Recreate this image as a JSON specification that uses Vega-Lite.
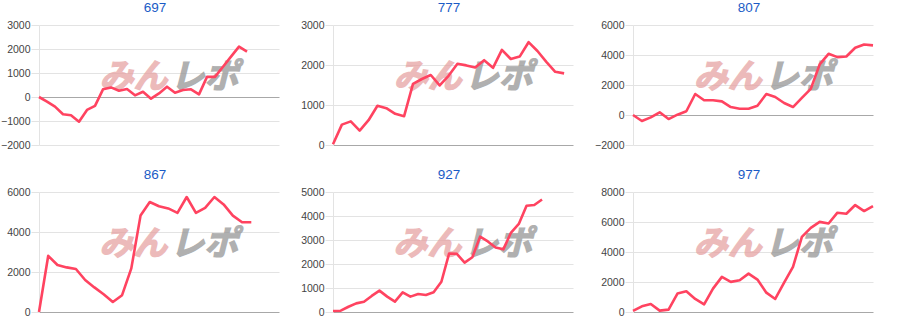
{
  "$schema": "https://vega.github.io/schema/vega-lite/v6.json",
  "padding": {"left": 0, "top": 0, "right": 0, "bottom": 0},
  "background": "white",
  "columns": 3,
  "spacing": {"row": 16, "column": 21},
  "config": {
    "font": "Liberation Sans",
    "view": {"stroke": null},
    "title": {"font": "Liberation Sans", "fontSize": 13.5, "fontWeight": "normal", "color": "#1a5bc6", "offset": 6, "dx": -4},
    "axisY": {
      "labelFont": "Liberation Sans", "labelFontSize": 10.5, "labelColor": "#444444",
      "labelPadding": 1, "tickSize": 8, "format": "d", "tickColor": "#e3e3e3",
      "domainColor": "#e3e3e3", "title": null, "grid": true
    },
    "line": {"color": "#ff4360", "strokeWidth": 2.6, "strokeJoin": "round"}
  },
  "concat": [
    {
      "title": "697", "width": 240, "height": 120,
      "encoding": {
        "x": {"field": "day", "type": "quantitative", "scale": {"domain": [1, 31], "nice": false}, "axis": null},
        "y": {"field": "value", "type": "quantitative", "scale": {"domain": [-2000, 3000], "nice": false},
              "axis": {"values": [-2000, -1000, 0, 1000, 2000, 3000], "gridColor": {"condition": {"test": "datum.value === 0", "value": "#a8a8a8"}, "value": "#e3e3e3"}}}
      },
      "layer": [
        {"data": {"values": [{"t": "みん", "day": 17.2, "value": 835}]},
         "mark": {"type": "text", "align": "right", "baseline": "middle", "dx": -1, "dy": 1, "font": "Noto Sans CJK JP", "fontSize": 34, "fontWeight": "bold", "fontStyle": "italic", "color": "#e6a0a0", "stroke": "#e6a0a0", "strokeWidth": 1.3, "opacity": 0.72},
         "encoding": {"text": {"field": "t"}}},
        {"data": {"values": [{"t": "レポ", "day": 17.2, "value": 835}]},
         "mark": {"type": "text", "align": "left", "baseline": "middle", "dx": 2, "dy": 1, "font": "Noto Sans CJK JP", "fontSize": 34, "fontWeight": "bold", "fontStyle": "italic", "color": "#9a9a9a", "stroke": "#9a9a9a", "strokeWidth": 1.3, "opacity": 0.78},
         "encoding": {"text": {"field": "t"}}},
        {"data": {"values": [
          {"day": 1, "value": 0}, {"day": 2, "value": -190}, {"day": 3, "value": -400}, {"day": 4, "value": -720},
          {"day": 5, "value": -760}, {"day": 6, "value": -1030}, {"day": 7, "value": -540}, {"day": 8, "value": -370},
          {"day": 9, "value": 320}, {"day": 10, "value": 400}, {"day": 11, "value": 260}, {"day": 12, "value": 330},
          {"day": 13, "value": 70}, {"day": 14, "value": 220}, {"day": 15, "value": -70}, {"day": 16, "value": 150},
          {"day": 17, "value": 430}, {"day": 18, "value": 180}, {"day": 19, "value": 290}, {"day": 20, "value": 320},
          {"day": 21, "value": 110}, {"day": 22, "value": 840}, {"day": 23, "value": 840}, {"day": 24, "value": 1260},
          {"day": 25, "value": 1680}, {"day": 26, "value": 2100}, {"day": 27, "value": 1890}
        ]}, "mark": "line"}
      ]
    },
    {
      "title": "777", "width": 240, "height": 120,
      "encoding": {
        "x": {"field": "day", "type": "quantitative", "scale": {"domain": [1, 28], "nice": false}, "axis": null},
        "y": {"field": "value", "type": "quantitative", "scale": {"domain": [0, 3000], "nice": false},
              "axis": {"values": [0, 1000, 2000, 3000], "gridColor": {"condition": {"test": "datum.value === 0", "value": "#a8a8a8"}, "value": "#e3e3e3"}}}
      },
      "layer": [
        {"data": {"values": [{"t": "みん", "day": 15.6, "value": 1700}]},
         "mark": {"type": "text", "align": "right", "baseline": "middle", "dx": -1, "dy": 1, "font": "Noto Sans CJK JP", "fontSize": 34, "fontWeight": "bold", "fontStyle": "italic", "color": "#e6a0a0", "stroke": "#e6a0a0", "strokeWidth": 1.3, "opacity": 0.72},
         "encoding": {"text": {"field": "t"}}},
        {"data": {"values": [{"t": "レポ", "day": 15.6, "value": 1700}]},
         "mark": {"type": "text", "align": "left", "baseline": "middle", "dx": 2, "dy": 1, "font": "Noto Sans CJK JP", "fontSize": 34, "fontWeight": "bold", "fontStyle": "italic", "color": "#9a9a9a", "stroke": "#9a9a9a", "strokeWidth": 1.3, "opacity": 0.78},
         "encoding": {"text": {"field": "t"}}},
        {"data": {"values": [
          {"day": 1, "value": 20}, {"day": 2, "value": 510}, {"day": 3, "value": 590}, {"day": 4, "value": 360},
          {"day": 5, "value": 620}, {"day": 6, "value": 980}, {"day": 7, "value": 920}, {"day": 8, "value": 780},
          {"day": 9, "value": 720}, {"day": 10, "value": 1530}, {"day": 11, "value": 1650}, {"day": 12, "value": 1750},
          {"day": 13, "value": 1490}, {"day": 14, "value": 1730}, {"day": 15, "value": 2030}, {"day": 16, "value": 1990},
          {"day": 17, "value": 1940}, {"day": 18, "value": 2120}, {"day": 19, "value": 1930}, {"day": 20, "value": 2380},
          {"day": 21, "value": 2150}, {"day": 22, "value": 2210}, {"day": 23, "value": 2570}, {"day": 24, "value": 2350},
          {"day": 25, "value": 2080}, {"day": 26, "value": 1830}, {"day": 27, "value": 1790}
        ]}, "mark": "line"}
      ]
    },
    {
      "title": "807", "width": 240, "height": 120,
      "encoding": {
        "x": {"field": "day", "type": "quantitative", "scale": {"domain": [1, 28], "nice": false}, "axis": null},
        "y": {"field": "value", "type": "quantitative", "scale": {"domain": [-2000, 6000], "nice": false},
              "axis": {"values": [-2000, 0, 2000, 4000, 6000], "gridColor": {"condition": {"test": "datum.value === 0", "value": "#a8a8a8"}, "value": "#e3e3e3"}}}
      },
      "layer": [
        {"data": {"values": [{"t": "みん", "day": 15.6, "value": 2536}]},
         "mark": {"type": "text", "align": "right", "baseline": "middle", "dx": -1, "dy": 1, "font": "Noto Sans CJK JP", "fontSize": 34, "fontWeight": "bold", "fontStyle": "italic", "color": "#e6a0a0", "stroke": "#e6a0a0", "strokeWidth": 1.3, "opacity": 0.72},
         "encoding": {"text": {"field": "t"}}},
        {"data": {"values": [{"t": "レポ", "day": 15.6, "value": 2536}]},
         "mark": {"type": "text", "align": "left", "baseline": "middle", "dx": 2, "dy": 1, "font": "Noto Sans CJK JP", "fontSize": 34, "fontWeight": "bold", "fontStyle": "italic", "color": "#9a9a9a", "stroke": "#9a9a9a", "strokeWidth": 1.3, "opacity": 0.78},
         "encoding": {"text": {"field": "t"}}},
        {"data": {"values": [
          {"day": 1, "value": 0}, {"day": 2, "value": -400}, {"day": 3, "value": -160}, {"day": 4, "value": 180},
          {"day": 5, "value": -270}, {"day": 6, "value": 20}, {"day": 7, "value": 250}, {"day": 8, "value": 1400},
          {"day": 9, "value": 980}, {"day": 10, "value": 980}, {"day": 11, "value": 910}, {"day": 12, "value": 530},
          {"day": 13, "value": 420}, {"day": 14, "value": 420}, {"day": 15, "value": 620}, {"day": 16, "value": 1400},
          {"day": 17, "value": 1200}, {"day": 18, "value": 800}, {"day": 19, "value": 530}, {"day": 20, "value": 1140},
          {"day": 21, "value": 1740}, {"day": 22, "value": 3370}, {"day": 23, "value": 4080}, {"day": 24, "value": 3860},
          {"day": 25, "value": 3900}, {"day": 26, "value": 4480}, {"day": 27, "value": 4700}, {"day": 28, "value": 4640}
        ]}, "mark": "line"}
      ]
    },
    {
      "title": "867", "width": 240, "height": 120,
      "encoding": {
        "x": {"field": "day", "type": "quantitative", "scale": {"domain": [1, 27], "nice": false}, "axis": null},
        "y": {"field": "value", "type": "quantitative", "scale": {"domain": [0, 6000], "nice": false},
              "axis": {"values": [0, 2000, 4000, 6000], "gridColor": {"condition": {"test": "datum.value === 0", "value": "#a8a8a8"}, "value": "#e3e3e3"}}}
      },
      "layer": [
        {"data": {"values": [{"t": "みん", "day": 15.0, "value": 3400}]},
         "mark": {"type": "text", "align": "right", "baseline": "middle", "dx": -1, "dy": 1, "font": "Noto Sans CJK JP", "fontSize": 34, "fontWeight": "bold", "fontStyle": "italic", "color": "#e6a0a0", "stroke": "#e6a0a0", "strokeWidth": 1.3, "opacity": 0.72},
         "encoding": {"text": {"field": "t"}}},
        {"data": {"values": [{"t": "レポ", "day": 15.0, "value": 3400}]},
         "mark": {"type": "text", "align": "left", "baseline": "middle", "dx": 2, "dy": 1, "font": "Noto Sans CJK JP", "fontSize": 34, "fontWeight": "bold", "fontStyle": "italic", "color": "#9a9a9a", "stroke": "#9a9a9a", "strokeWidth": 1.3, "opacity": 0.78},
         "encoding": {"text": {"field": "t"}}},
        {"data": {"values": [
          {"day": 1, "value": 0}, {"day": 2, "value": 2810}, {"day": 3, "value": 2350}, {"day": 4, "value": 2230},
          {"day": 5, "value": 2150}, {"day": 6, "value": 1600}, {"day": 7, "value": 1230}, {"day": 8, "value": 890},
          {"day": 9, "value": 500}, {"day": 10, "value": 840}, {"day": 11, "value": 2180}, {"day": 12, "value": 4820},
          {"day": 13, "value": 5500}, {"day": 14, "value": 5290}, {"day": 15, "value": 5180}, {"day": 16, "value": 4960},
          {"day": 17, "value": 5750}, {"day": 18, "value": 4960}, {"day": 19, "value": 5210}, {"day": 20, "value": 5750},
          {"day": 21, "value": 5380}, {"day": 22, "value": 4820}, {"day": 23, "value": 4490}, {"day": 24, "value": 4490}
        ]}, "mark": "line"}
      ]
    },
    {
      "title": "927", "width": 240, "height": 120,
      "encoding": {
        "x": {"field": "day", "type": "quantitative", "scale": {"domain": [1, 32], "nice": false}, "axis": null},
        "y": {"field": "value", "type": "quantitative", "scale": {"domain": [0, 5000], "nice": false},
              "axis": {"values": [0, 1000, 2000, 3000, 4000, 5000], "gridColor": {"condition": {"test": "datum.value === 0", "value": "#a8a8a8"}, "value": "#e3e3e3"}}}
      },
      "layer": [
        {"data": {"values": [{"t": "みん", "day": 17.7, "value": 2835}]},
         "mark": {"type": "text", "align": "right", "baseline": "middle", "dx": -1, "dy": 1, "font": "Noto Sans CJK JP", "fontSize": 34, "fontWeight": "bold", "fontStyle": "italic", "color": "#e6a0a0", "stroke": "#e6a0a0", "strokeWidth": 1.3, "opacity": 0.72},
         "encoding": {"text": {"field": "t"}}},
        {"data": {"values": [{"t": "レポ", "day": 17.7, "value": 2835}]},
         "mark": {"type": "text", "align": "left", "baseline": "middle", "dx": 2, "dy": 1, "font": "Noto Sans CJK JP", "fontSize": 34, "fontWeight": "bold", "fontStyle": "italic", "color": "#9a9a9a", "stroke": "#9a9a9a", "strokeWidth": 1.3, "opacity": 0.78},
         "encoding": {"text": {"field": "t"}}},
        {"data": {"values": [
          {"day": 1, "value": 40}, {"day": 2, "value": 55}, {"day": 3, "value": 220}, {"day": 4, "value": 360},
          {"day": 5, "value": 430}, {"day": 6, "value": 670}, {"day": 7, "value": 890}, {"day": 8, "value": 640},
          {"day": 9, "value": 430}, {"day": 10, "value": 820}, {"day": 11, "value": 640}, {"day": 12, "value": 750},
          {"day": 13, "value": 710}, {"day": 14, "value": 820}, {"day": 15, "value": 1260}, {"day": 16, "value": 2440},
          {"day": 17, "value": 2420}, {"day": 18, "value": 2060}, {"day": 19, "value": 2280}, {"day": 20, "value": 3140},
          {"day": 21, "value": 2940}, {"day": 22, "value": 2690}, {"day": 23, "value": 2610}, {"day": 24, "value": 3310},
          {"day": 25, "value": 3670}, {"day": 26, "value": 4430}, {"day": 27, "value": 4460}, {"day": 28, "value": 4690}
        ]}, "mark": "line"}
      ]
    },
    {
      "title": "977", "width": 240, "height": 120,
      "encoding": {
        "x": {"field": "day", "type": "quantitative", "scale": {"domain": [1, 28], "nice": false}, "axis": null},
        "y": {"field": "value", "type": "quantitative", "scale": {"domain": [0, 8000], "nice": false},
              "axis": {"values": [0, 2000, 4000, 6000, 8000], "gridColor": {"condition": {"test": "datum.value === 0", "value": "#a8a8a8"}, "value": "#e3e3e3"}}}
      },
      "layer": [
        {"data": {"values": [{"t": "みん", "day": 15.6, "value": 4536}]},
         "mark": {"type": "text", "align": "right", "baseline": "middle", "dx": -1, "dy": 1, "font": "Noto Sans CJK JP", "fontSize": 34, "fontWeight": "bold", "fontStyle": "italic", "color": "#e6a0a0", "stroke": "#e6a0a0", "strokeWidth": 1.3, "opacity": 0.72},
         "encoding": {"text": {"field": "t"}}},
        {"data": {"values": [{"t": "レポ", "day": 15.6, "value": 4536}]},
         "mark": {"type": "text", "align": "left", "baseline": "middle", "dx": 2, "dy": 1, "font": "Noto Sans CJK JP", "fontSize": 34, "fontWeight": "bold", "fontStyle": "italic", "color": "#9a9a9a", "stroke": "#9a9a9a", "strokeWidth": 1.3, "opacity": 0.78},
         "encoding": {"text": {"field": "t"}}},
        {"data": {"values": [
          {"day": 1, "value": 70}, {"day": 2, "value": 380}, {"day": 3, "value": 530}, {"day": 4, "value": 90},
          {"day": 5, "value": 160}, {"day": 6, "value": 1230}, {"day": 7, "value": 1380}, {"day": 8, "value": 870},
          {"day": 9, "value": 510}, {"day": 10, "value": 1560}, {"day": 11, "value": 2340}, {"day": 12, "value": 2010},
          {"day": 13, "value": 2120}, {"day": 14, "value": 2560}, {"day": 15, "value": 2160}, {"day": 16, "value": 1290},
          {"day": 17, "value": 870}, {"day": 18, "value": 1960}, {"day": 19, "value": 3010}, {"day": 20, "value": 5010},
          {"day": 21, "value": 5610}, {"day": 22, "value": 6010}, {"day": 23, "value": 5900}, {"day": 24, "value": 6620},
          {"day": 25, "value": 6550}, {"day": 26, "value": 7130}, {"day": 27, "value": 6730}, {"day": 28, "value": 7060}
        ]}, "mark": "line"}
      ]
    }
  ]
}
